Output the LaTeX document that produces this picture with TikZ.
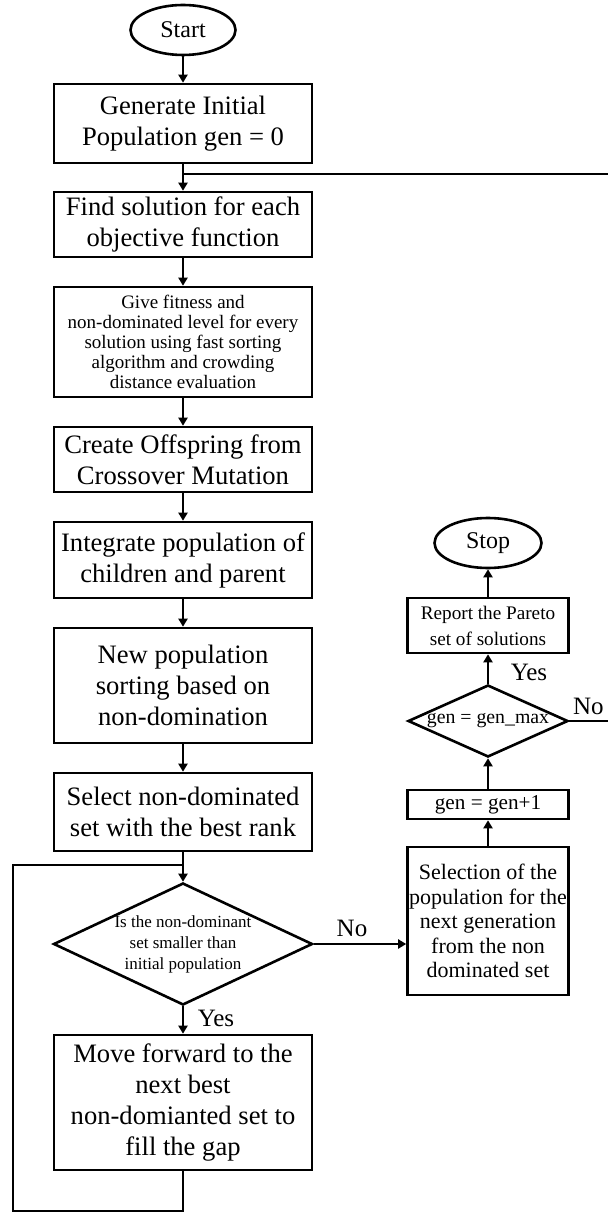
\documentclass[tikz,border=0pt]{standalone}
\usepackage{fontspec}
\setmainfont{Liberation Serif}
\usepackage{tikz}
\usetikzlibrary{arrows.meta,shapes.geometric}

\begin{document}
\begin{tikzpicture}[x=0.5pt, y=-0.5pt, line width=1.1pt,
  procbox/.style={draw, line width=1.3pt, minimum width=129pt, inner sep=1pt, align=center, font=\fontsize{13.3}{15.5}\selectfont},
  smallbox/.style={draw, line width=1.3pt, minimum width=80.5pt, inner sep=0.5pt, align=center},
  termnode/.style={draw, ellipse, line width=1.3pt, inner sep=0pt, font=\fontsize{12}{14}\selectfont},
  decision/.style={draw, diamond, line width=1.3pt, inner sep=0pt},
  lbl/.style={inner sep=0pt, font=\fontsize{12.5}{14}\selectfont},
  flow/.style={-{Triangle[length=4pt,width=4.5pt]}}]
\useasboundingbox (0,0) rectangle (608,1213);
% left column
\node[termnode, minimum width=52.5pt, minimum height=25pt] (start) at (183,30) {Start};
\node[procbox, minimum height=39.5pt] (gen0) at (183,123.5) {Generate Initial\\Population gen = 0};
\node[procbox, minimum height=32.5pt] (findsol) at (183,224.5) {Find solution for each\\objective function};
\node[procbox, minimum height=55pt, font=\fontsize{9.5}{10}\selectfont] (fitness) at (183,342) {Give fitness and\\non-dominated level for every\\solution using fast sorting\\algorithm and crowding\\distance evaluation};
\node[procbox, minimum height=32.5pt] (offspring) at (183,459.5) {Create Offspring from\\Crossover Mutation};
\node[procbox, minimum height=38pt] (integrate) at (183,560) {Integrate population of\\children and parent};
\node[procbox, minimum height=57.5pt] (sorting) at (183,685.5) {New population\\sorting based on\\non-domination};
\node[procbox, minimum height=39pt] (select) at (183,812) {Select non-dominated\\set with the best rank};
\node[decision, minimum width=129.5pt, minimum height=61pt, label={[align=center, font=\fontsize{8.5}{10.5}\selectfont]center:Is the non-dominant\\set smaller than\\initial population}] (isSmaller) at (183,944) {};
\node[procbox, minimum height=67.5pt] (moveFwd) at (183,1102.5) {Move forward to the\\next best\\non-domianted set to\\fill the gap};
% right column
\node[termnode, minimum width=53.5pt, minimum height=25pt] (stopN) at (488,543) {Stop};
\node[smallbox, minimum height=27.5pt, font=\fontsize{9.6}{13}\selectfont] (report) at (488,625.5) {Report the Pareto\\set of solutions};
\node[decision, minimum width=80pt, minimum height=36pt, label={[font=\fontsize{9.9}{12}\selectfont]center:gen = gen\_max}] (genMax) at (488,721) {};
\node[smallbox, minimum height=14.5pt, font=\fontsize{10.6}{12}\selectfont] (genInc) at (488,804.5) {gen = gen+1};
\node[smallbox, minimum height=74pt, font=\fontsize{11}{12.3}\selectfont] (selection) at (488,921) {Selection of the\\population for the\\next generation\\from the non\\dominated set};
% branch labels
\node[lbl] (noLeft) at (352,928) {No};
\node[lbl] (yesLeft) at (216,1018) {Yes};
\node[lbl] (yesRight) at (529,672) {Yes};
\node[lbl, anchor=west] (noRight) at (572,706) {No};
% free ends
\coordinate (retTop) at (608,174);
\coordinate (joinTop) at (183,174);
\coordinate (retNo) at (608,721);
\coordinate (loopBL) at (13,1211);
\coordinate (joinLoop) at (183,865);
% connectors
\draw[flow] (start) -- (gen0);
\draw[flow] (gen0) -- (findsol);
\draw (retTop) -- (joinTop);
\draw[flow] (findsol) -- (fitness);
\draw[flow] (fitness) -- (offspring);
\draw[flow] (offspring) -- (integrate);
\draw[flow] (integrate) -- (sorting);
\draw[flow] (sorting) -- (select);
\draw[flow] (select) -- (isSmaller);
\draw[flow] (isSmaller) -- (moveFwd);
\draw (moveFwd.south) |- (loopBL) |- (joinLoop);
\draw[flow] (isSmaller.east) -- (isSmaller.east -| selection.west);
\draw[flow] (selection) -- (genInc);
\draw[flow] (genInc) -- (genMax);
\draw[flow] (genMax) -- (report);
\draw[flow] (report) -- (stopN);
\draw (genMax.east) -- (retNo);
\end{tikzpicture}
\end{document}
